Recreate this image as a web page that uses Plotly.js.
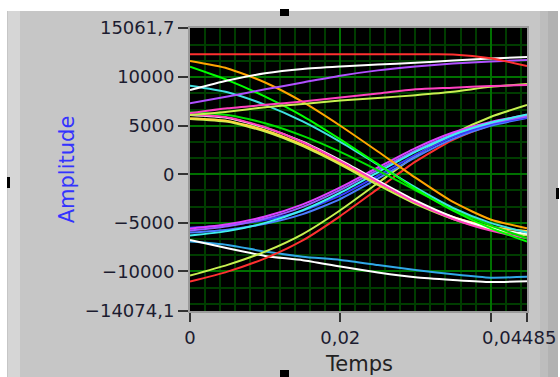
<!DOCTYPE html>
<html>
<head>
<meta charset="utf-8">
<script src="https://cdn.plot.ly/plotly-3.0.1.min.js"></script>
<style>
  html, body { margin: 0; padding: 0; background: #ffffff; }
  #chart { width: 560px; height: 377px; }
</style>
</head>
<body>
<div id="chart"></div>
<script>
// ---- data ----
const timeS = [0, 0.005, 0.01, 0.015, 0.02, 0.025, 0.03, 0.035, 0.04, 0.04485];

const redFlat      = [12350, 12350, 12350, 12350, 12350, 12350, 12350, 12340, 11950, 11150];
const whiteTop     = [8670, 9650, 10400, 10850, 11100, 11300, 11480, 11720, 11920, 12080];
const purpleTop    = [7300, 8000, 8750, 9450, 10150, 10700, 11100, 11400, 11620, 11760];
const pinkRise     = [6300, 6800, 7150, 7500, 7900, 8330, 8750, 8920, 9100, 9190];
const limeRise     = [6100, 6450, 6900, 7250, 7600, 7850, 8150, 8500, 9000, 9300];

const orangeDesc   = [11660, 10900, 9450, 7450, 5000, 2350, -350, -2850, -4650, -5560];
const greenDesc1   = [11075, 9700, 8000, 6000, 3600, 1050, -1500, -3750, -5550, -6930];
const cyanDesc     = [9120, 8450, 7150, 5450, 3350, 1000, -1350, -3450, -5000, -6000];
const greenDesc2   = [6380, 6100, 5250, 3950, 2300, 400, -1650, -3600, -5250, -6600];
const magentaDesc  = [6170, 5850, 4850, 3300, 1350, -800, -2900, -4600, -5800, -6590];
const whiteDesc    = [6100, 5800, 4800, 3350, 1450, -650, -2700, -4400, -5550, -6150];
const yellowDesc   = [5760, 5500, 4550, 3050, 1150, -900, -2850, -4400, -5400, -5850];
const limeDesc     = [5700, 5400, 4400, 2900, 1000, -1100, -3050, -4600, -5650, -6300];

const cyanRise     = [-6300, -5850, -5000, -3700, -1900, 200, 2300, 4050, 5300, 6150];
const magentaRise  = [-5600, -5150, -4350, -3100, -1350, 700, 2700, 4300, 5400, 6100];
const violetRise   = [-5800, -5350, -4550, -3350, -1600, 450, 2450, 4100, 5250, 5950];
const blueRise     = [-5500, -5250, -4700, -3750, -2200, -150, 2000, 3850, 5150, 5850];
const blue2Rise    = [-6000, -5700, -5100, -4100, -2550, -450, 1750, 3650, 5000, 5800];
const redRise      = [-11050, -10020, -8650, -6800, -4300, -1500, 1300, 3550, 5050, 6100];
const limeRise2    = [-10430, -9330, -7960, -6150, -3700, -900, 1900, 4150, 5900, 7130];

const lightBlueDesc = [-6930, -7280, -7960, -8480, -8820, -9330, -9850, -10290, -10640, -10550];
const whiteBottom   = [-6760, -7620, -8400, -8850, -9500, -10100, -10600, -10880, -11100, -11000];

const xTickVals = [0, 0.02, 0.04, 0.04485];
const xTickText = ['0', '0,02', '', ''];
const xEndLabel = '0,04485';
const yTickVals = [-14074.1, -10000, -5000, 0, 5000, 10000, 15061.7];
const yTickText = ['\u221214074,1', '\u221210000', '\u22125000', '0', '5000', '10000', '15061,7'];
const xTitle = 'Temps';
const yTitle = 'Amplitude';

// ---- traces ----
const series = [
  [lightBlueDesc, '#30a8e8'],
  [whiteBottom, '#ffffff'],
  [redRise, '#ff3030'],
  [limeRise2, '#c8f050'],
  [blue2Rise, '#4a7cff'],
  [blueRise, '#3a3aff'],
  [violetRise, '#9a5cff'],
  [magentaRise, '#e040ff'],
  [cyanRise, '#40f0f0'],
  [limeDesc, '#c8f050'],
  [yellowDesc, '#ffd840'],
  [whiteDesc, '#ffffff'],
  [magentaDesc, '#ff40c0'],
  [greenDesc2, '#00e000'],
  [cyanDesc, '#40e0e0'],
  [greenDesc1, '#00ff00'],
  [orangeDesc, '#ffa500'],
  [limeRise, '#c8f050'],
  [pinkRise, '#ff40c0'],
  [purpleTop, '#b050ff'],
  [whiteTop, '#ffffff'],
  [redFlat, '#ff3030']
];

const traces = series.map(([vals, col]) => ({
  x: timeS, y: vals, type: 'scatter', mode: 'lines',
  line: {color: col, width: 2, shape: 'spline', smoothing: 0.6},
  hoverinfo: 'skip', showlegend: false
}));

// pixel -> paper helpers for frame decoration only
const L = 190, R = 527, T = 28, B = 311;
const px = v => (v - L) / (R - L);
const py = v => (B - v) / (B - T);
const rect = (x0, y0, x1, y1, fill) => ({
  type: 'rect', xref: 'paper', yref: 'paper', layer: 'below',
  x0: px(x0), x1: px(x1), y0: py(y1), y1: py(y0),
  fillcolor: fill, line: {width: 0}
});

const shapes = [
  rect(0, 0, 560, 11, '#ffffff'),
  rect(0, 0, 7, 377, '#ffffff'),
  rect(558, 0, 560, 377, '#ffffff'),
  rect(8, 11, 20, 377, '#d6d6d6'),
  rect(540, 11, 548, 377, '#bdbdbd'),
  rect(548, 11, 558, 377, '#b2b2b2'),
  rect(280, 9, 289, 16, '#000000'),
  rect(280, 370, 289, 377, '#000000'),
  rect(7, 177, 10, 188, '#000000'),
  rect(556, 188, 559, 199, '#000000')
];

const layout = {
  width: 560, height: 377,
  margin: {l: L, r: 560 - R, t: T, b: 377 - B},
  paper_bgcolor: '#c6c6c6',
  plot_bgcolor: '#000000',
  font: {family: 'DejaVu Sans', size: 18, color: '#1c1c30'},
  showlegend: false,
  xaxis: {
    range: [0, 0.04485],
    tickmode: 'array', tickvals: xTickVals, ticktext: xTickText,
    ticks: 'outside', ticklen: 9, tickwidth: 2, tickcolor: '#333333',
    showgrid: true, gridcolor: '#007000', gridwidth: 2,
    zeroline: false,
    showline: true, linecolor: '#9a9a9a', linewidth: 2, mirror: true,
    tickfont: {size: 18, color: '#1c1c30'},
    minor: {tickmode: 'linear', tick0: 0, dtick: 0.002, showgrid: true,
            gridcolor: '#003c00', gridwidth: 2, ticks: ''},
    title: {text: ''}
  },
  yaxis: {
    range: [-14074.1, 15061.7],
    tickmode: 'array', tickvals: yTickVals, ticktext: yTickText,
    ticks: 'outside', ticklen: 10, tickwidth: 2, tickcolor: '#333333',
    showgrid: true, gridcolor: '#007000', gridwidth: 2,
    zeroline: false,
    showline: true, linecolor: '#9a9a9a', linewidth: 2, mirror: true,
    tickfont: {size: 18, color: '#1c1c30'},
    minor: {tickmode: 'linear', tick0: 0, dtick: 10000 / 6, showgrid: true,
            gridcolor: '#003c00', gridwidth: 2, ticks: ''},
    title: {text: yTitle, font: {size: 21, color: '#3333ff'}, standoff: 5}
  },
  annotations: [
    {
      text: xTitle, xref: 'paper', yref: 'paper', x: 0.5, y: py(364),
      xanchor: 'center', yanchor: 'middle', showarrow: false,
      font: {size: 21, color: '#222222'}
    },
    {
      text: xEndLabel, xref: 'paper', yref: 'paper', x: px(558), y: py(337),
      xanchor: 'right', yanchor: 'middle', showarrow: false,
      font: {size: 18, color: '#1c1c30'}
    }
  ],
  shapes: shapes
};

Plotly.newPlot('chart', traces, layout, {staticPlot: true, displayModeBar: false});
</script>
</body>
</html>
